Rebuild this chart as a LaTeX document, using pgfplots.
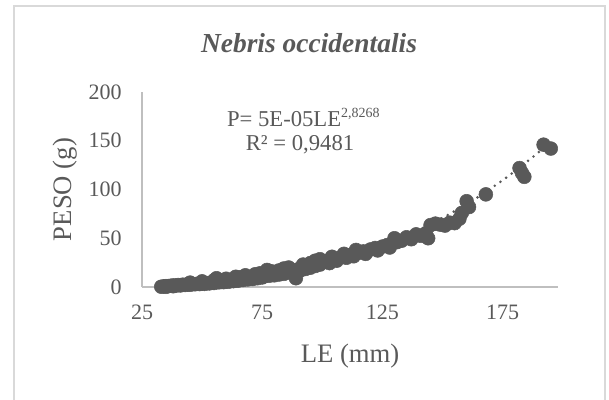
\documentclass[border=0pt]{standalone}
\usepackage{fontspec}
\setmainfont{Liberation Serif}
\usepackage{pgfplots}
\pgfplotsset{compat=1.18}

\definecolor{txtgray}{HTML}{595959}
\definecolor{ptgray}{HTML}{595959}
\definecolor{axgray}{HTML}{BFBFBF}
\definecolor{framegray}{HTML}{D9D9D9}

% LE (mm) vs PESO (g)
\pgfplotstableread{
x y
33 0.3
34 0.6
35 0.9
35 0.2
36 1.0
37 1.3
38 0.8
38 1.6
39 1.4
40 2.0
41 1.6
42 2.4
43 2.1
44 2.6
45 2.3
45 4.5
46 3.0
47 2.8
48 3.3
49 3.0
50 3.6
50 5.8
51 3.2
52 4.0
53 3.7
54 4.4
55 4.1
55 7.0
56 9.0
57 4.8
58 5.3
59 5.0
60 5.8
60 8.5
61 5.4
62 6.4
63 6.0
64 7.0
64 10.5
65 6.5
66 7.6
66 10.0
67 7.2
68 8.4
68 12.0
69 7.8
70 9.0
71 8.2
72 9.6
72 13.0
73 9.0
74 10.4
74 14.0
75 9.8
76 11.2
77 17.5
78 11.6
79 12.5
79 16.0
80 12.0
81 13.4
82 12.8
82 17.0
83 14.5
84 13.5
84 19.0
85 15.8
86 14.9
86 20.0
87 17.0
88 16.0
89 9.0
90 18.2
91 17.2
92 19.5
92 23.0
93 18.5
94 21.0
95 19.8
95 24.5
96 22.5
97 21.5
97 27.0
98 24.0
99 23.0
99 28.5
100 25.5
102 26.5
103 24.5
104 31.0
105 28.5
106 27.0
108 31.0
109 34.0
110 30.0
111 32.5
113 31.5
114 38.0
115 35.0
117 36.5
118 34.0
120 38.5
122 40.0
123 37.5
125 41.5
127 43.0
128 40.5
130 50.0
131 46.0
133 47.5
135 51.0
137 49.0
139 54.0
141 52.5
143 55.0
144 50.0
145 63.5
147 65.0
149 64.0
151 63.0
153 66.0
155 65.5
157 70.0
158 76.0
160 88.0
161 82.0
168 95.0
182 122.0
183 117.0
184 113.0
192 146.0
195 142.0
}\pesodata

% potential trendline P = 5E-05 LE^2.8268, tabulated
\pgfplotstableread{
x y
33 0.98
40 1.69
50 3.18
60 5.30
62.5 5.97
70 8.20
75 10.0
80 12.0
87.5 15.4
90 16.7
100 22.5
110 29.5
112.5 31.4
120 37.7
125 42.3
130 47.3
137.5 55.4
140 58.3
150 70.9
162.5 88.8
175 109.5
185 128.3
190 138.3
195 148.6
}\trenddata

\begin{document}
\begin{tikzpicture}
\useasboundingbox (-106.5pt,-84pt) rectangle (350.25pt,215.25pt);
\draw[framegray, line width=1.2pt] (-96pt,-95pt) -- (-96pt,210.75pt) -- (347.25pt,210.75pt) -- (347.25pt,-95pt);
\begin{axis}[
  at={(0,0)}, anchor=south west,
  scale only axis,
  width=312pt, height=146.25pt,
  xmin=25, xmax=198,
  ymin=0, ymax=200,
  xtick={25,75,125,175},
  ytick={0,50,100,150,200},
  axis x line*=bottom,
  axis y line*=left,
  axis line style={axgray, line width=1.1pt, -},
  major tick length=0pt,
  tick label style={text=txtgray, font=\fontsize{16.5}{19.8}\selectfont, inner sep=0pt},
  /pgf/number format/assume math mode=true,
  xticklabel style={anchor=north, yshift=-13.5pt},
  yticklabel style={anchor=east, xshift=-15pt},
  clip=false,
]
\addplot[only marks, mark=*, mark size=5.2pt, color=ptgray, mark options={draw=ptgray, fill=ptgray}]
  table[x=x, y=y] {\pesodata};
\addplot[ptgray, line width=2.2pt, line cap=round, dash pattern=on 0pt off 5.2pt, smooth]
  table[x=x, y=y] {\trenddata};
\end{axis}
\node[anchor=base, text=txtgray, font=\fontsize{20.6}{24}\selectfont\bfseries\itshape] at (125.25pt,175.5pt) {Nebris occidentalis};
\node[anchor=base, text=txtgray, font=\fontsize{17}{20}\selectfont] at (121pt,120pt) {P= 5E-05LE\raisebox{0.42em}{\fontsize{10.5}{12}\selectfont 2,8268}};
\node[anchor=base, text=txtgray, font=\fontsize{17}{20}\selectfont] at (118.5pt,102.2pt) {R² = 0,9481};
\node[anchor=base, text=txtgray, font=\fontsize{20}{24}\selectfont] at (156pt,-56.25pt) {LE (mm)};
\node[anchor=base, rotate=90, text=txtgray, font=\fontsize{20}{24}\selectfont] at (-53.25pt,73.1pt) {PESO (g)};
\end{tikzpicture}
\end{document}
